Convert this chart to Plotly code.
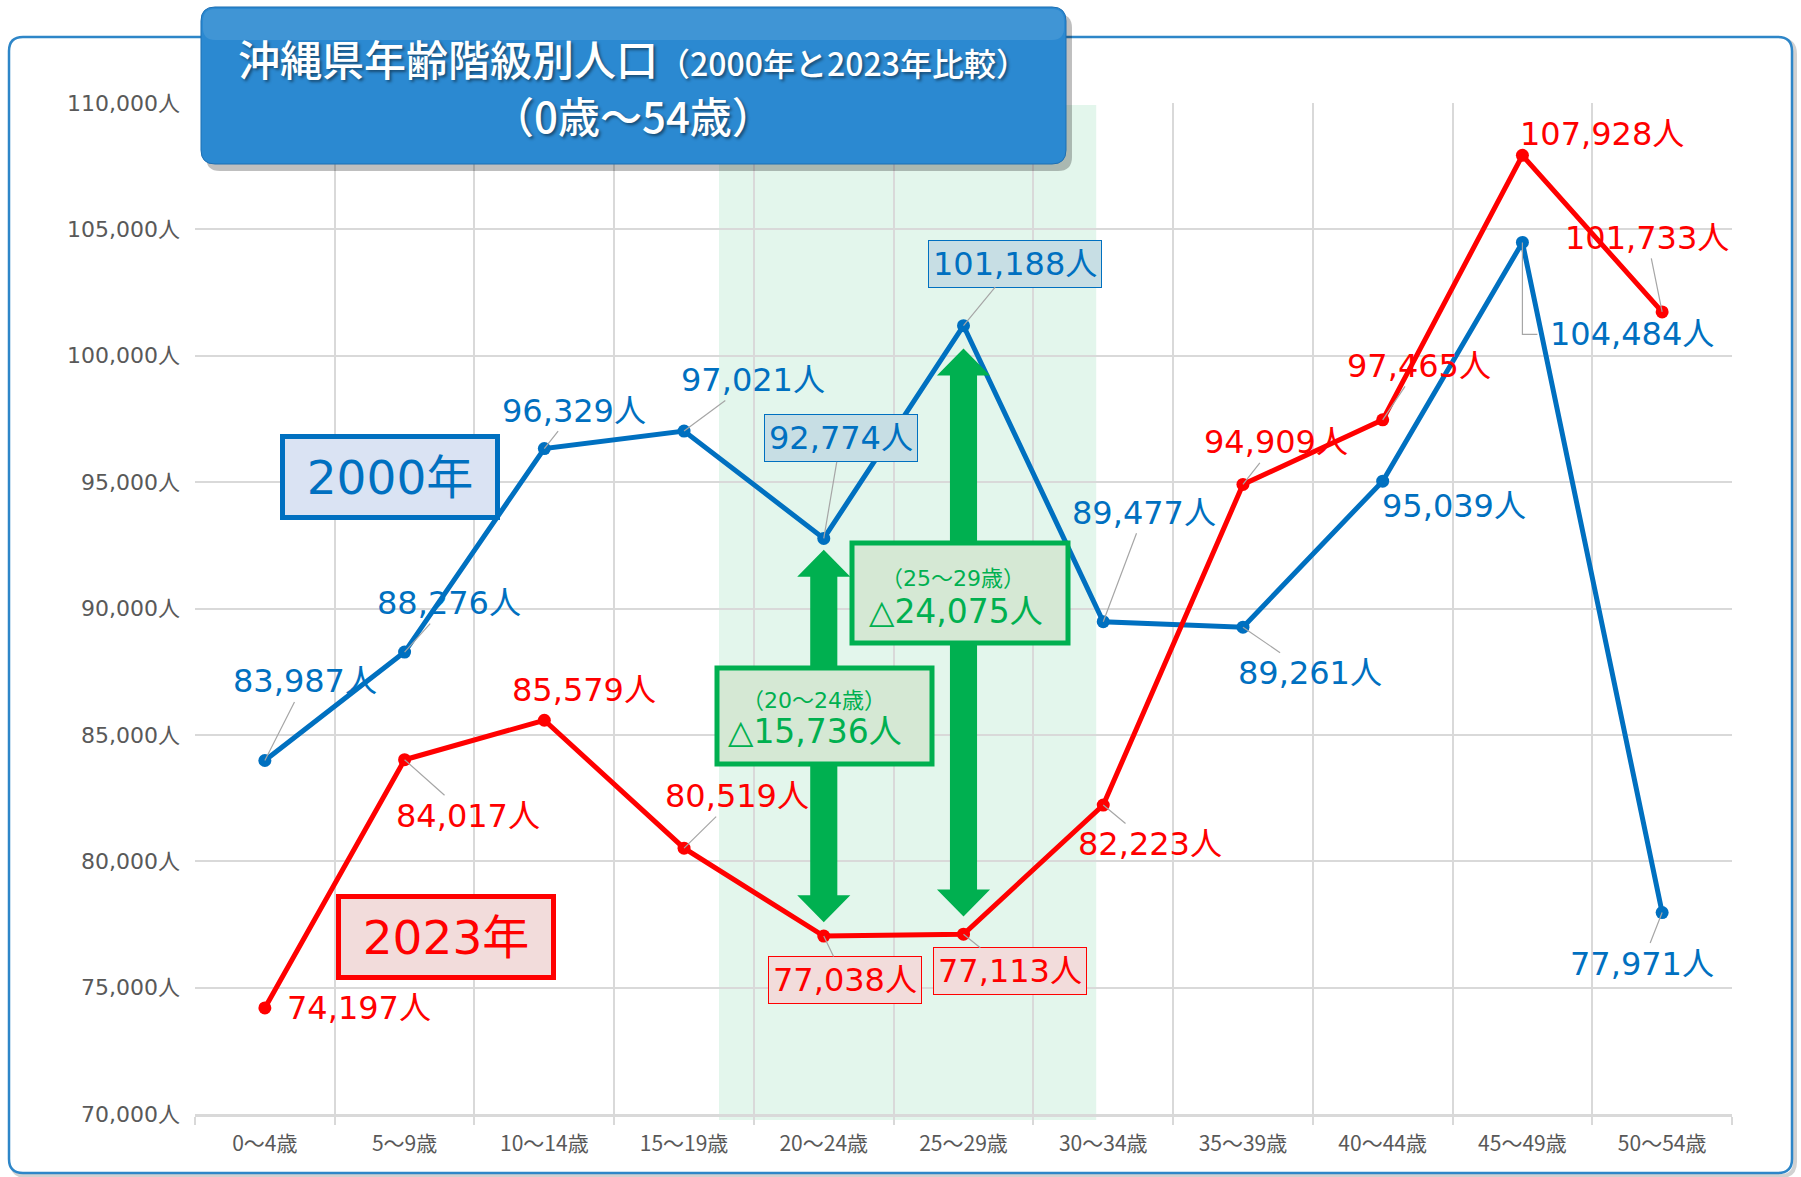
import plotly.graph_objects as go

# ---------------- data ----------------
categories = ["0～4歳", "5～9歳", "10～14歳", "15～19歳", "20～24歳", "25～29歳",
              "30～34歳", "35～39歳", "40～44歳", "45～49歳", "50～54歳"]
pop_2000 = [83987, 88276, 96329, 97021, 92774, 101188, 89477, 89261, 95039, 104484, 77971]
pop_2023 = [74197, 84017, 85579, 80519, 77038, 77113, 82223, 94909, 97465, 107928, 101733]
y_tick_vals = [70000, 75000, 80000, 85000, 90000, 95000, 100000, 105000, 110000]
y_tick_text = ["70,000人", "75,000人", "80,000人", "85,000人", "90,000人", "95,000人",
               "100,000人", "105,000人", "110,000人"]
highlight_idx = [4, 5]          # 20～24歳, 25～29歳
series_names = ["2000年", "2023年"]

# ---------------- layout helpers ----------------
W, H = 1801, 1177
PL, PR, PT, PB = 195, 1732, 103, 1114
Y_PER_PX = (y_tick_vals[-1] - y_tick_vals[0]) / (PB - PT)
X_PER_PX = len(categories) / (PR - PL)


def pxp(x):
    return (x - PL) / (PR - PL)


def pyp(y):
    return (PB - y) / (PB - PT)


def rounded_path(l, t, r, b, rad):
    pts = [
        ("M", (l + rad, t)), ("L", (r - rad, t)), ("Q", (r, t), (r, t + rad)),
        ("L", (r, b - rad)), ("Q", (r, b), (r - rad, b)), ("L", (l + rad, b)),
        ("Q", (l, b), (l, b - rad)), ("L", (l, t + rad)), ("Q", (l, t), (l + rad, t)),
    ]
    s = ""
    for p in pts:
        cmd = p[0]
        coords = " ".join(f"{pxp(x):.5f},{pyp(y):.5f}" for x, y in p[1:])
        s += f"{cmd} {coords} "
    return s + "Z"


BLUE = "#0070c0"
RED = "#ff0000"
GREEN = "#00b050"
GRID = "#d9d9d9"
TICK = "#595959"
LEAD = "#a6a6a6"
LFONT = "DejaVu Sans, Noto Sans CJK JP, sans-serif"
JFONT = "Noto Sans CJK JP, sans-serif"

# label offsets in pixels (text centre relative to point) and leader style
# 1 = straight leader, 0 = none, 2 = elbow leader (down then right)
off_2000 = [(40, -79), (44, -49), (30, -38), (69, -51), (17, -100), (51, -62),
            (41, -109), (67, 46), (71, 25), (110, 92), (-20, 51)]
lead_2000 = [1, 1, 1, 1, 1, 1, 1, 1, 0, 2, 1]
off_2023 = [(94, 0), (63, 56), (40, -30), (53, -52), (21, 44), (46, 37),
            (47, 39), (33, -42), (36, -54), (80, -21), (-15, -74)]
lead_2023 = [0, 1, 0, 1, 1, 1, 1, 1, 1, 0, 1]

fig = go.Figure()
fig.add_trace(go.Scatter(x=categories, y=pop_2000, mode="lines+markers", name=series_names[0],
                         line=dict(color=BLUE, width=5), marker=dict(size=13, color=BLUE)))
fig.add_trace(go.Scatter(x=categories, y=pop_2023, mode="lines+markers", name=series_names[1],
                         line=dict(color=RED, width=5), marker=dict(size=13, color=RED)))

shapes = []
annotations = []

# outer frame (shadow + border)
shapes.append(dict(type="path", xref="paper", yref="paper", layer="below",
                   path=rounded_path(12, 40, 1795, 1176, 14),
                   line=dict(color="rgba(0,0,0,0.18)", width=4), fillcolor="rgba(0,0,0,0)"))
shapes.append(dict(type="path", xref="paper", yref="paper", layer="below",
                   path=rounded_path(9, 37, 1792, 1173, 14),
                   line=dict(color="#2e86c8", width=2.5), fillcolor="white"))

# highlighted band
shapes.append(dict(type="rect", xref="x", yref="paper", layer="below",
                   x0=highlight_idx[0] - 0.75, x1=highlight_idx[1] + 0.95, y0=-0.006, y1=0.998,
                   fillcolor="rgba(0,176,80,0.11)", line=dict(width=0)))

# green double arrows (from 2000 value down to 2023 value)
gaps_top = [450, 900]
gaps_bot = [550, 700]
head_len = 1070
sw, hw = 0.097, 0.19
for k, i in enumerate(highlight_idx):
    yT = pop_2000[i] - gaps_top[k]
    yB = pop_2023[i] + gaps_bot[k]
    p = (f"M {i},{yT} L {i + hw},{yT - head_len} L {i + sw},{yT - head_len} "
         f"L {i + sw},{yB + head_len} L {i + hw},{yB + head_len} L {i},{yB} "
         f"L {i - hw},{yB + head_len} L {i - sw},{yB + head_len} L {i - sw},{yT - head_len} "
         f"L {i - hw},{yT - head_len} Z")
    shapes.append(dict(type="path", xref="x", yref="y", layer="above", path=p,
                       fillcolor=GREEN, line=dict(width=0)))

# difference boxes
diff_boxes = [(717, 668, 932, 764), (852, 543, 1068, 643)]
diff_text_pos = [((814, 700), (815, 731)), ((953, 578), (956, 611))]
for k, i in enumerate(highlight_idx):
    l, t, r, b = diff_boxes[k]
    shapes.append(dict(type="rect", xref="paper", yref="paper", layer="above",
                       x0=pxp(l), x1=pxp(r), y0=pyp(b), y1=pyp(t),
                       fillcolor="#d5e8d4", line=dict(color=GREEN, width=5)))
    diff = pop_2000[i] - pop_2023[i]
    (x1, y1), (x2, y2) = diff_text_pos[k]
    annotations.append(dict(xref="paper", yref="paper", x=pxp(x1), y=pyp(y1), showarrow=False,
                            text=f"（{categories[i]}）", font=dict(family=LFONT, size=22, color=GREEN),
                            xanchor="center", yanchor="middle"))
    annotations.append(dict(xref="paper", yref="paper", x=pxp(x2), y=pyp(y2), showarrow=False,
                            text=f"△{diff:,}人", font=dict(family=LFONT, size=33, color=GREEN),
                            xanchor="center", yanchor="middle"))

# title box
shapes.append(dict(type="path", xref="paper", yref="paper", layer="above",
                   path=rounded_path(206, 14, 1072, 171, 14),
                   fillcolor="rgba(0,0,0,0.25)", line=dict(width=0)))
shapes.append(dict(type="path", xref="paper", yref="paper", layer="above",
                   path=rounded_path(201, 7, 1066, 164, 14),
                   fillcolor="#2b89d1", line=dict(color="#1d6fb3", width=1)))
shapes.append(dict(type="path", xref="paper", yref="paper", layer="above",
                   path=rounded_path(203, 9, 1064, 40, 12),
                   fillcolor="rgba(255,255,255,0.10)", line=dict(width=0)))
title_shadow = "2px 2px 3px rgba(0,0,0,0.45)"
annotations.append(dict(xref="paper", yref="paper", x=pxp(633), y=pyp(58), showarrow=False,
                        text="沖縄県年齢階級別人口<span style='font-size:32px'>（2000年と2023年比較）</span>",
                        font=dict(family=JFONT, size=42, color="white", weight=500, shadow=title_shadow),
                        xanchor="center", yanchor="middle"))
annotations.append(dict(xref="paper", yref="paper", x=pxp(633), y=pyp(115), showarrow=False,
                        text="（0歳～54歳）",
                        font=dict(family=JFONT, size=42, color="white", weight=500, shadow=title_shadow),
                        xanchor="center", yanchor="middle"))

# series name boxes
legend_boxes = [((390, 477), "#dae3f3", BLUE), ((446, 937), "#f2dcdb", RED)]
for n, ((cx, cy), fill, col) in enumerate(legend_boxes):
    annotations.append(dict(xref="paper", yref="paper", x=pxp(cx), y=pyp(cy), showarrow=False,
                            text=series_names[n], font=dict(family=LFONT, size=47, color=col),
                            xanchor="center", yanchor="middle", width=208, height=74,
                            bgcolor=fill, bordercolor=col, borderwidth=5, borderpad=1))

# data labels
for series, offs, leads, col, boxfill in [
        (pop_2000, off_2000, lead_2000, BLUE, "#c7dee4"),
        (pop_2023, off_2023, lead_2023, RED, "#f2dcdb")]:
    for i, v in enumerate(series):
        ax, ay = offs[i]
        a = dict(x=categories[i], y=v, ax=ax, ay=ay, showarrow=True, arrowhead=0,
                 arrowwidth=1.2, standoff=0,
                 arrowcolor=LEAD if leads[i] == 1 else "rgba(0,0,0,0)",
                 text=f"{v:,}人", font=dict(family=LFONT, size=32, color=col))
        if i in highlight_idx:
            a.update(bgcolor=boxfill, bordercolor=col, borderwidth=1, borderpad=4)
        annotations.append(a)
        if leads[i] == 2:
            yb = v - ay * Y_PER_PX
            xr = i + 15 * X_PER_PX
            shapes.append(dict(type="path", xref="x", yref="y", layer="above",
                               path=f"M {i},{v} L {i},{yb} L {xr},{yb}",
                               line=dict(color=LEAD, width=1.2)))

fig.update_layout(
    width=W, height=H,
    margin=dict(l=PL, r=W - PR, t=PT, b=H - PB),
    paper_bgcolor="white", plot_bgcolor="rgba(0,0,0,0)",
    showlegend=False,
    shapes=shapes, annotations=annotations,
    xaxis=dict(type="category", categoryorder="array", categoryarray=categories,
               range=[-0.5, len(categories) - 0.5], tickson="boundaries",
               showgrid=True, gridcolor=GRID, gridwidth=1.5,
               ticks="outside", ticklen=8, tickcolor=GRID, tickwidth=1.5,
               showline=True, linecolor=GRID, linewidth=3,
               tickfont=dict(family=JFONT, size=21, color=TICK), ticklabelstandoff=9),
    yaxis=dict(range=[y_tick_vals[0], y_tick_vals[-1]], tickmode="array",
               tickvals=y_tick_vals, ticktext=y_tick_text,
               showgrid=True, gridcolor=GRID, gridwidth=1.5,
               zeroline=False, showline=False,
               tickfont=dict(family=LFONT, size=22, color=TICK), ticklabelstandoff=14),
)

fig.write_html("out.html", config={"displayModeBar": False},
               post_script="document.body.style.margin='0';")
